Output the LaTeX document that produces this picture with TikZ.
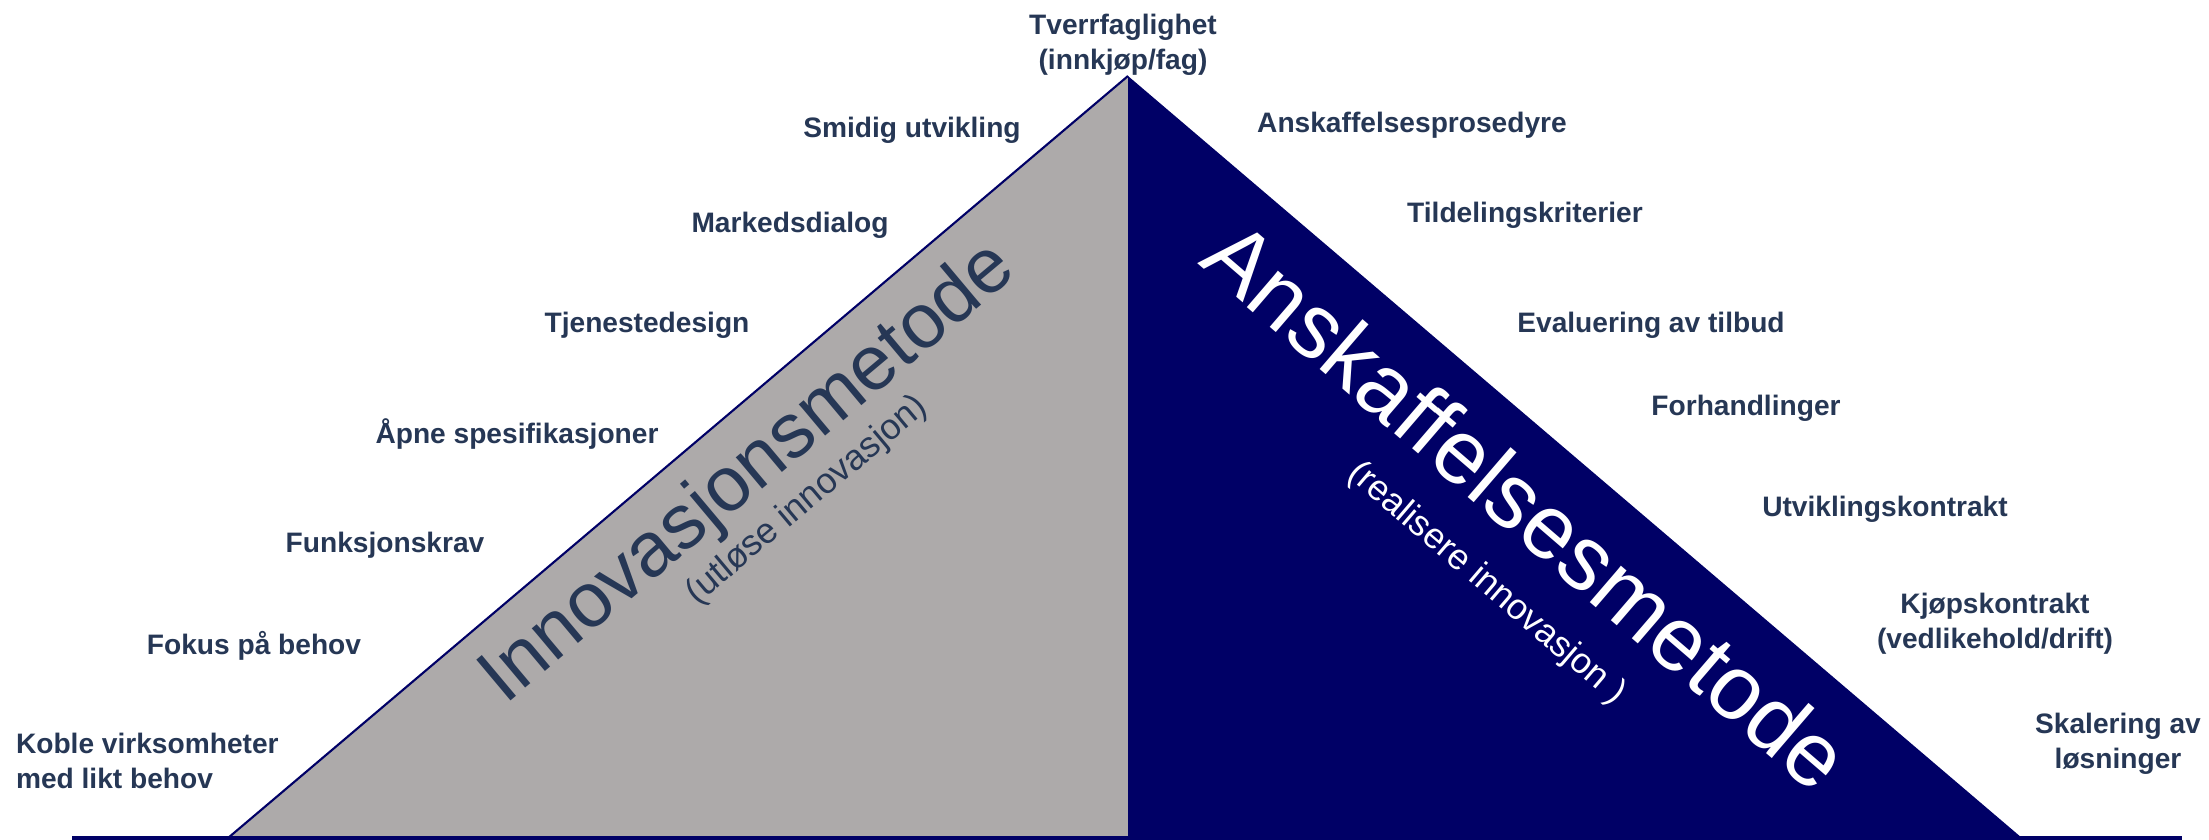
\documentclass[tikz,border=0pt]{standalone}
\usepackage{fontspec}
\setmainfont{Liberation Sans}
\definecolor{txtblue}{RGB}{38,55,85}
\definecolor{navy}{RGB}{0,0,102}
\definecolor{stone}{RGB}{173,170,170}

\begin{document}
\begin{tikzpicture}[x=0.01cm, y=-0.01cm, every node/.style={inner sep=0pt, outer sep=0pt},
		item/.style={font=\fontsize{8pt}{10pt}\selectfont\bfseries, text=txtblue, align=center},
		bigtext/.style={font=\fontsize{#1}{#1}\selectfont, anchor=base west}]
		\useasboundingbox (0,0) rectangle (2209,840);
		\coordinate (top) at (1128,76);
		\coordinate (bl) at (228,838);
		\coordinate (bm) at (1128,838);
		\coordinate (br) at (2022,838);
		\coordinate (ll) at (72,838);
		\coordinate (lr) at (2182,838);
		\fill[stone] (bl) -- (top) -- (bm) -- cycle;
		\fill[navy] (bm) -- (top) -- (br) -- cycle;
		\draw[navy, line width=0.6pt] (bl) -- (top);
		\draw[navy, line width=1pt] (ll) -- (lr);
		%Metoder
		\node[bigtext=22pt, text=txtblue, rotate=40] (innov) at (505,705) {Innovasjonsmetode};
		\node[bigtext=10.2pt, text=txtblue, rotate=40] (innovsub) at (697,605) {(utløse innovasjon)};
		\node[bigtext=25.8pt, text=white, rotate=-40.7] (anskaff) at (1197,264) {Anskaffelsesmetode};
		\node[bigtext=10.2pt, text=white, rotate=-40.5] (anskaffsub) at (1346,476) {(realisere innovasjon )};
		%venstre side
		\node[item] (tverr) at (1123,45) {Tverrfaglighet\\(innkjøp/fag)};
		\node[item, anchor=base] (smidig) at (912,138) {Smidig utvikling};
		\node[item, anchor=base] (marked) at (790,233) {Markedsdialog};
		\node[item, anchor=base] (tjeneste) at (647,333) {Tjenestedesign};
		\node[item, anchor=base] (aapne) at (517,444) {Åpne spesifikasjoner};
		\node[item, anchor=base] (funksjon) at (385,552) {Funksjonskrav};
		\node[item, anchor=base] (fokus) at (254,654) {Fokus på behov};
		\node[item, align=left, anchor=west] (koble) at (16,761) {Koble virksomheter\\med likt behov};
		%høyre side
		\node[item, anchor=base] (prosedyre) at (1412,133) {Anskaffelsesprosedyre};
		\node[item, anchor=base] (tildeling) at (1525,223) {Tildelingskriterier};
		\node[item, anchor=base] (evaluering) at (1651,333) {Evaluering av tilbud};
		\node[item, anchor=base] (forhandling) at (1746,416) {Forhandlinger};
		\node[item, anchor=base] (utvikling) at (1885,517) {Utviklingskontrakt};
		\node[item] (kjoep) at (1995,624) {Kjøpskontrakt\\(vedlikehold/drift)};
		\node[item] (skalering) at (2118,744) {Skalering av\\løsninger};
	\end{tikzpicture}
\end{document}
